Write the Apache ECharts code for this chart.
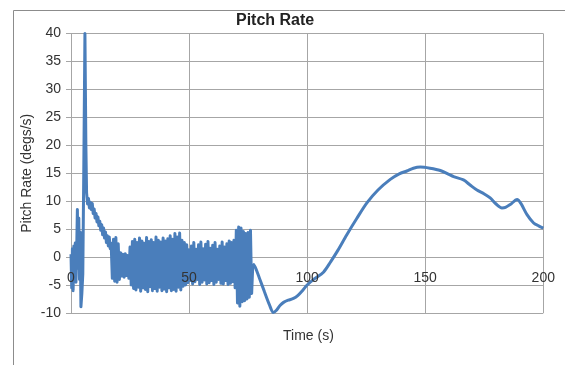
<!DOCTYPE html>
<html>
<head>
<meta charset="utf-8">
<script src="https://cdn.jsdelivr.net/npm/echarts@6/dist/echarts.min.js"></script>
<style>
html,body{margin:0;padding:0;background:#fff;}
#chart{width:565px;height:365px;}
</style>
</head>
<body>
<div id="chart"></div>
<script>
// Early transient (time s, pitch rate deg/s)
const earlyTime = [0.0,0.3,0.6,0.9,1.2,1.5,1.8,2.1,2.4,2.7,3.0,3.3,3.6,3.9,4.2,4.6,5.0,5.4,5.9,6.3,6.6,7.0,7.4,7.8,8.2,8.6,9.0,9.4,9.8,10.2,10.6,11.0,11.4,11.8,12.2,12.6,13.0,13.4,13.8,14.2,14.6,15.0,15.4,15.8,16.2,16.6];
const earlyRate = [0.5,-5.5,1.5,-6.0,2.0,-3.5,2.5,-4.5,1.0,8.5,-2.0,7.0,-4.0,4.5,-8.9,-6.5,-3.0,15,40,20,11.5,9.5,10.5,8.8,9.8,8.5,9.6,7.8,8.6,7.0,7.8,6.3,7.2,5.6,6.4,4.8,5.8,4.0,5.2,3.4,4.5,2.6,3.8,2.0,3.6,1.5];

// Oscillating segment, sampled every 0.5 s from 17 s to 77 s
const noisyStart = 17;
const noisyStep = 0.5;
const noisyRate = [
 2.5,-3.8,3.2,-4.3,3.5,-4.5,2.4,-4.0,0.8,-3.4,
 0.5,-3.6,0.6,-3.3,0.3,-3.8,1.8,-5.0,2.8,-5.6,
 3.2,-5.9,2.6,-5.4,3.4,-6.1,2.9,-5.5,2.5,-5.8,
 3.5,-6.2,2.8,-5.3,3.1,-6.0,2.6,-5.6,3.6,-6.1,
 3.0,-5.4,2.7,-6.0,3.4,-5.7,2.9,-6.2,3.3,-5.5,
 3.8,-6.0,3.2,-5.8,4.2,-6.1,3.6,-5.4,4.3,-5.9,
 3.0,-5.2,2.6,-5.0,2.2,-4.6,1.3,-4.2,2.0,-4.8,
 2.6,-4.4,1.4,-4.0,2.2,-4.9,2.7,-4.5,1.5,-4.1,
 2.3,-4.8,2.8,-4.6,1.6,-4.2,2.1,-4.9,2.6,-4.5,
 1.4,-4.0,2.0,-4.7,2.7,-4.8,1.8,-4.2,2.4,-4.9,
 2.9,-4.7,2.6,-4.4,3.0,-5.5,4.8,-8.2,5.4,-8.8,
 5.2,-8.0,4.6,-7.8,4.2,-7.5,4.4,-7.2,4.8,-6.5,
 -1.2
];

// Smooth tail after 77 s
const tailTime = [77.0,78,80,82,84,85.7,87,88.6,90,92,94.2,96,98,100,103,106.9,110,113,116.8,121,125.3,130,135.2,139,142.2,145,147.9,152,156.4,160,162,166.2,169,171.9,175,177.5,180,182.5,184,186,188.9,190.5,193.1,195.9,198,200];
const tailRate = [-1.2,-1.8,-4.0,-6.3,-8.5,-9.9,-9.5,-8.6,-8.1,-7.7,-7.4,-6.9,-6.0,-5.0,-3.9,-2.7,-0.8,1.2,4.0,6.9,9.7,12.0,13.9,14.9,15.4,15.9,16.1,15.9,15.5,14.8,14.4,13.8,12.9,12.0,11.3,10.6,9.5,8.8,8.9,9.4,10.3,9.6,7.6,6.1,5.6,5.2];

const xMin = 0, xMax = 200, xStep = 50;
const yMin = -10, yMax = 40, yStep = 5;

const headData = earlyTime.map((t,i)=>[t, earlyRate[i]])
  .concat(noisyRate.map((v,i)=>[noisyStart + i*noisyStep, v]));
const tailData = tailTime.map((t,i)=>[t, tailRate[i]]);

const FONT = 'Liberation Sans';
const TXT = '#333333';
const GRIDC = '#a6a6a6';
const LINEC = '#4a7ebb';

const GRID_TOP = 33.5, GRID_H = 279.5;
// distance from bottom of plot to the y = 0 line (x-axis crosses at zero)
const zeroOffset = GRID_H * (0 - yMin) / (yMax - yMin);

const chart = echarts.init(document.getElementById('chart'), null, {renderer:'canvas'});
chart.setOption({
  animation:false,
  backgroundColor:'#ffffff',
  title:{
    text:'Pitch Rate', left:236, top:13, padding:0,
    textStyle:{fontFamily:FONT, fontSize:16, fontWeight:'bold', color:'#222'}
  },
  graphic:[{
    type:'rect', left:11, top:8, silent:true,
    shape:{x:0,y:0,width:552,height:400},
    style:{fill:'none', stroke:'#8c8c8c', lineWidth:1}
  },{
    type:'text', left:283, top:329, silent:true,
    style:{text:'Time (s)', font:'14px "Liberation Sans"', fill:TXT}
  }],
  grid:{left:71, top:GRID_TOP, width:472.3, height:GRID_H, containLabel:false, outerBoundsMode:'none'},
  xAxis:[{
    // gridlines and axis line (behind the series)
    type:'value', min:xMin, max:xMax, interval:xStep,
    offset: -zeroOffset,
    axisLine:{show:true, onZero:false, lineStyle:{color:GRIDC, width:1}},
    axisTick:{show:false},
    axisLabel:{show:false},
    splitLine:{show:true, lineStyle:{color:GRIDC, width:1}}
  },{
    // tick labels drawn above the series, as in the reference
    type:'value', min:xMin, max:xMax, interval:xStep, position:'bottom',
    offset: -zeroOffset, z:10,
    axisLine:{show:false, onZero:false},
    axisTick:{show:false},
    axisLabel:{fontFamily:FONT, fontSize:14, color:TXT, margin:14},
    splitLine:{show:false}
  }],
  yAxis:{
    type:'value', min:yMin, max:yMax, interval:yStep,
    name:'Pitch Rate (degs/s)', nameLocation:'middle', nameGap:37, nameRotate:90,
    nameMoveOverlap:false,
    nameTextStyle:{fontFamily:FONT, fontSize:14, color:TXT},
    axisLine:{show:true, lineStyle:{color:GRIDC, width:1}},
    axisTick:{show:true, length:5, inside:false, lineStyle:{color:GRIDC}},
    axisLabel:{fontFamily:FONT, fontSize:14, color:TXT, margin:10},
    splitLine:{show:true, lineStyle:{color:GRIDC, width:1}}
  },
  series:[
    {type:'line', data:headData, showSymbol:false, smooth:false, xAxisIndex:0,
     lineStyle:{color:LINEC, width:3, join:'round'}, itemStyle:{color:LINEC}, z:3},
    {type:'line', data:tailData, showSymbol:false, smooth:0.3, xAxisIndex:0,
     lineStyle:{color:LINEC, width:3}, itemStyle:{color:LINEC}, z:3}
  ]
});
</script>
</body>
</html>
